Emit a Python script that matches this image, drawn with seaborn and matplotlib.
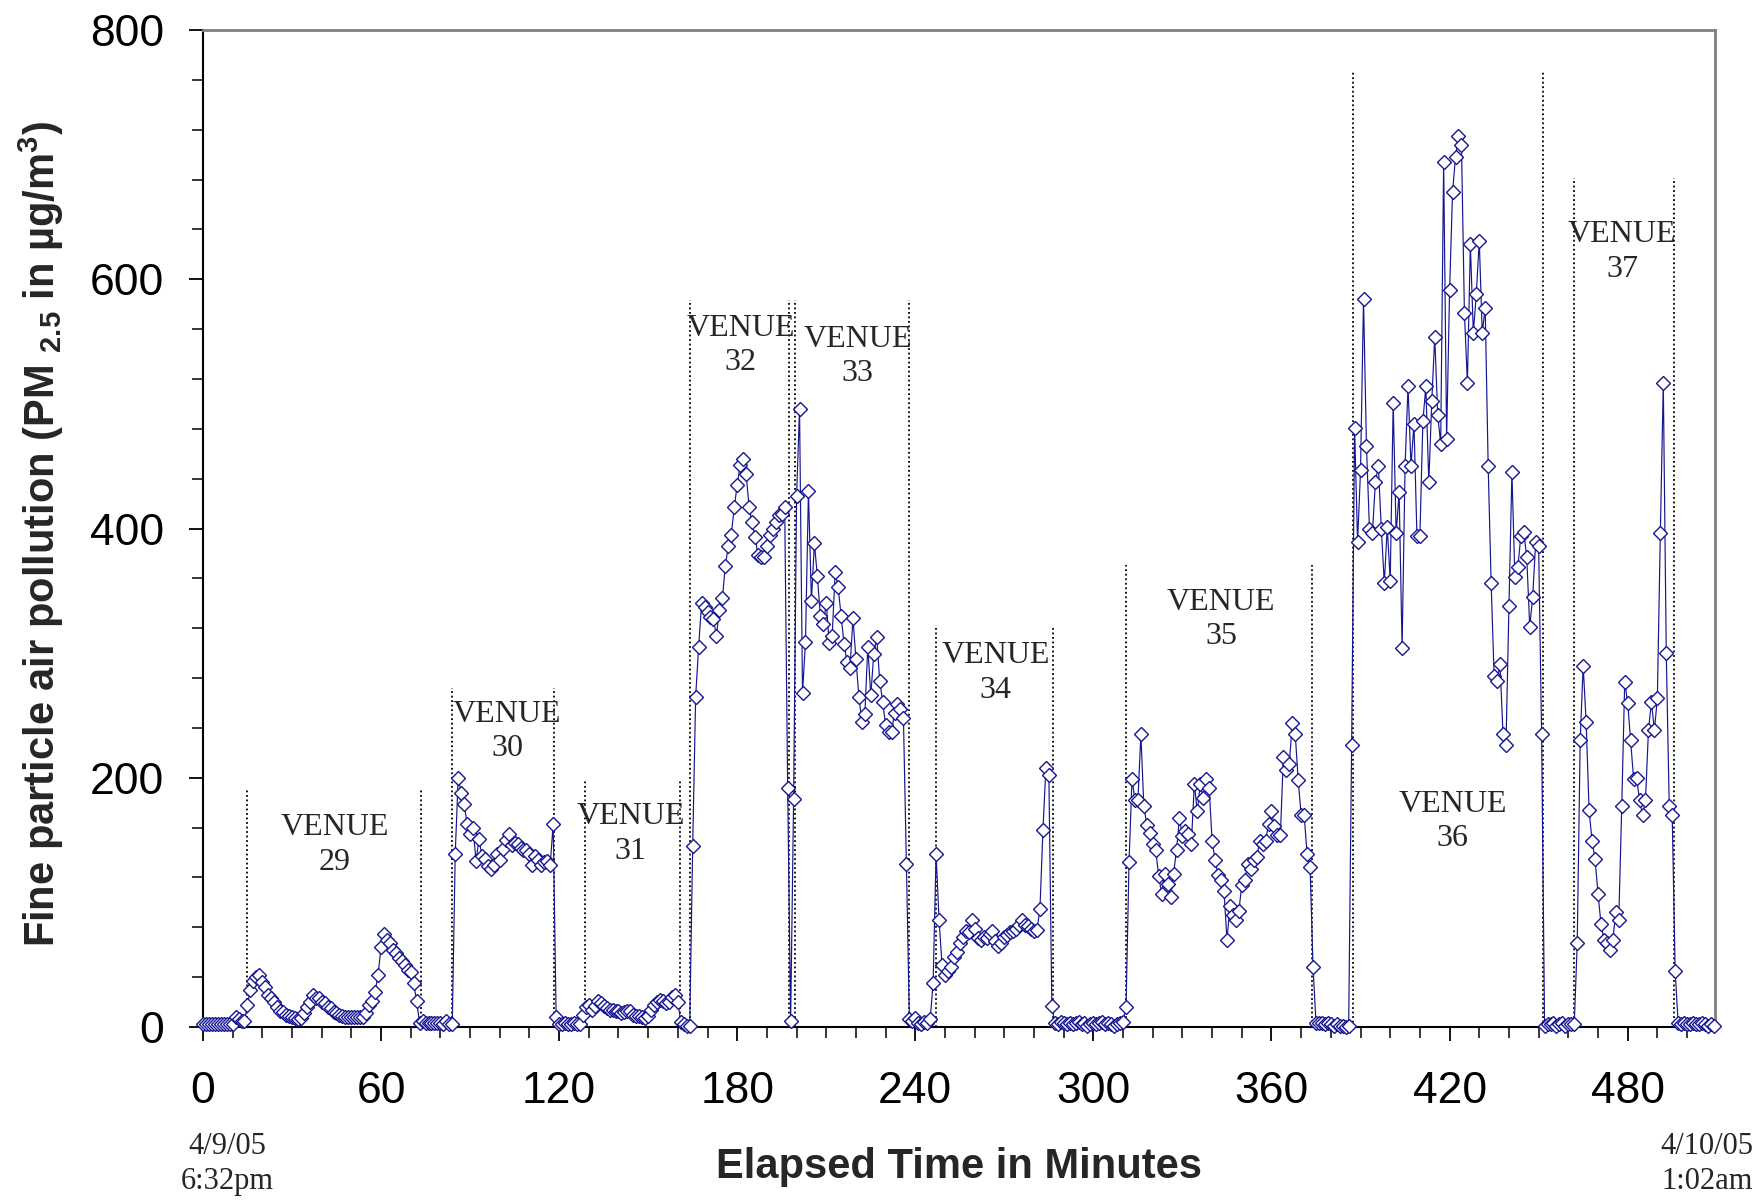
import numpy as np
import pandas as pd
import seaborn as sns
import matplotlib.pyplot as plt
from matplotlib.ticker import MultipleLocator

# PM2.5 readings, one per minute
pre_29 = [2, 2, 2, 2, 2, 2, 2, 2, 2, 2, 2, 8, 6, 5, 5]
venue_29 = [18, 30, 37, 40, 42, 36, 32, 26, 23, 20, 16, 13, 12, 10, 9, 8, 7, 6, 7, 11,
            16, 20, 26, 23, 23, 20, 19, 16, 15, 12, 11, 10, 9, 8, 8, 8, 8, 8, 8, 8,
            11, 18, 21, 28, 42, 64, 75, 70, 67, 62, 59, 55, 53, 50, 46, 44, 35, 21]
gap_1 = [3, 5, 3, 3, 3, 3, 3, 3, 2, 5, 2, 2]
venue_30 = [139, 200, 188, 179, 163, 155, 160, 133, 151, 137, 135, 129, 127, 130, 139,
            134, 143, 150, 155, 146, 148, 147, 144, 142, 142, 139, 130, 137, 134, 130,
            132, 133, 130, 163, 8]
gap_2 = [2, 2, 3, 2, 2, 3, 2, 2]
venue_31 = [10, 16, 18, 14, 17, 21, 19, 17, 15, 14, 14, 13, 13, 11, 12, 13, 13, 10, 9, 9,
            8, 7, 9, 14, 18, 20, 22, 21, 19, 20, 24, 26, 20, 4, 2, 1, 1]
venue_32 = [145, 265, 305, 340, 337, 333, 329, 327, 314, 335, 344, 370, 386, 395, 417,
            435, 451, 456, 444, 417, 405, 393, 379, 377, 377, 386, 395, 400, 405, 411,
            412, 417, 192, 5]
venue_33 = [183, 426, 496, 268, 309, 430, 342, 388, 362, 330, 323, 340, 308, 314, 365,
            353, 330, 307, 293, 288, 328, 295, 265, 245, 251, 305, 266, 299, 313, 278,
            261, 242, 237, 237, 252, 259, 255, 248, 131, 6]
gap_3 = [5, 7, 3, 2, 4, 3, 6, 35]
venue_34 = [139, 86, 50, 42, 45, 48, 56, 60, 67, 72, 77, 76, 86, 79, 71, 70, 72, 71, 75, 77,
            69, 65, 67, 72, 74, 76, 77, 79, 82, 86, 82, 81, 79, 77, 78, 95, 158, 208, 202, 17]
gap_4 = [3, 2, 4, 3, 2, 3, 2, 3, 4, 2, 3, 1, 2, 3, 2, 3, 4, 2, 3, 2, 1, 2, 3, 4]
venue_35 = [16, 132, 199, 182, 182, 235, 177, 162, 156, 147, 142, 121, 107, 123, 115,
            104, 123, 142, 168, 153, 157, 155, 147, 195, 173, 195, 184, 199, 192, 149,
            134, 122, 118, 109, 70, 97, 90, 86, 93, 114, 118, 131, 127, 134, 136,
            149, 147, 149, 163, 173, 161, 154, 154, 217, 206, 211, 244, 235, 198, 170,
            170, 139, 128, 48]
gap_5 = [3, 3, 3, 2, 3, 2, 1, 2, 1, 1, 0, 1]
venue_36 = [226, 481, 389, 447, 584, 466, 400, 396, 437, 450, 400, 356, 401, 358, 501,
            396, 429, 304, 450, 514, 450, 484, 394, 394, 486, 514, 437, 502, 554, 491,
            468, 694, 472, 591, 670, 698, 715, 708, 573, 517, 628, 557, 588, 631, 557,
            577, 450, 356, 282, 278, 291, 235, 226, 338, 445, 361, 369, 394, 397, 377,
            321, 345, 389, 386, 235, 1]
gap_6 = [2, 2, 3, 1, 2, 3, 1, 2, 2, 2]
venue_37 = [67, 230, 290, 245, 174, 149, 135, 107, 83, 70, 67, 62, 70, 92, 86, 177, 277,
            260, 230, 199, 200, 182, 170, 182, 238, 261, 238, 264, 396, 517, 300, 177,
            170, 45]
post_37 = [3, 2, 3, 2, 2, 3, 2, 2, 3, 2, 1, 2, 1]

pm25 = (pre_29 + venue_29 + gap_1 + venue_30 + gap_2 + venue_31 + venue_32 + venue_33
        + gap_3 + venue_34 + gap_4 + venue_35 + gap_5 + venue_36 + gap_6 + venue_37 + post_37)
minutes = np.arange(len(pm25))
df = pd.DataFrame({'minute': minutes, 'pm25': pm25})

# venue boundaries (minutes), heights of the dotted markers, label spots
venue_names = ['29', '30', '31', '32', '33', '34', '35', '36', '37']
venue_start = [14.8, 84.0, 128.6, 164.0, 199.6, 247.0, 311.0, 387.6, 461.8]
venue_end = [73.4, 118.4, 160.7, 197.3, 237.8, 286.3, 373.6, 451.6, 495.5]
venue_line_top = [192, 272, 198, 583, 583, 322, 371, 766, 681]
label_x = [44.3, 102.5, 144.1, 181.1, 220.5, 267.0, 343.0, 421.1, 478.1]
label_y = [146, 237, 155, 547, 538, 284, 327, 165, 622]

sns.set_theme(style='white')
plt.rcParams['font.family'] = ['Liberation Sans', 'DejaVu Sans']
plt.rcParams['mathtext.fontset'] = 'custom'
plt.rcParams['mathtext.rm'] = 'Liberation Sans'
plt.rcParams['mathtext.bf'] = 'Liberation Sans:bold'

navy = '#161690'
fig = plt.figure(figsize=(17.6, 12.01), dpi=100)
ax = fig.add_axes([0.1153, 0.1449, 0.8591, 0.8301])

# dotted venue boundaries
for s, e, top in zip(venue_start, venue_end, venue_line_top):
    ax.vlines([s, e], 0, top, colors='black', linestyles=(0, (1, 1.5)), linewidth=1.3)

sns.lineplot(data=df, x='minute', y='pm25', ax=ax, color=navy, linewidth=0.85,
             marker='D', markersize=7.5, markerfacecolor='white',
             markeredgecolor=navy, markeredgewidth=1.0, clip_on=False, zorder=3)

for name, x, y in zip(venue_names, label_x, label_y):
    ax.text(x, y, 'VENUE\n' + name, ha='center', va='center', fontsize=23,
            family='Liberation Serif', linespacing=1.25)

ax.set_xlim(0, 509.4)
ax.set_ylim(0, 800)
ax.xaxis.set_major_locator(MultipleLocator(60))
ax.xaxis.set_minor_locator(MultipleLocator(10))
ax.yaxis.set_major_locator(MultipleLocator(200))
ax.yaxis.set_minor_locator(MultipleLocator(40))
ax.set_xticks(range(0, 481, 60))
ax.tick_params(axis='both', which='major', direction='out', length=10, width=1.3,
               labelsize=32, color='black', labelcolor='black')
ax.tick_params(axis='both', which='minor', direction='out', length=8, width=1.1,
               color='black')
ax.tick_params(axis='x', which='major', pad=22)
ax.tick_params(axis='y', which='major', pad=18)
ax.tick_params(bottom=True, left=True, which='both')

for side in ['left', 'bottom']:
    ax.spines[side].set_color('black')
    ax.spines[side].set_linewidth(1.5)
for side in ['top', 'right']:
    ax.spines[side].set_color('#808080')
    ax.spines[side].set_linewidth(2)

ax.set_xlabel('Elapsed Time in Minutes', fontsize=30, fontweight='bold', va='center')
ax.xaxis.set_label_coords(0.5, -0.1404)
ax.set_ylabel(r'Fine particle air pollution (PM $_{\mathbf{2.5}}$ in µg/m$^{\mathbf{3}}$)',
              fontsize=30, fontweight='bold', va='center')
ax.yaxis.set_label_coords(-0.1068, 0.494)

fig.text(227 / 1760, 1 - 1164 / 1201, '4/9/05\n6:32pm', ha='center', va='center',
         fontsize=22, family='Liberation Serif', linespacing=1.3)
fig.text(1707 / 1760, 1 - 1164 / 1201, '4/10/05\n1:02am', ha='center', va='center',
         fontsize=22, family='Liberation Serif', linespacing=1.3)

fig.savefig('out.png', dpi=100, facecolor='white')
